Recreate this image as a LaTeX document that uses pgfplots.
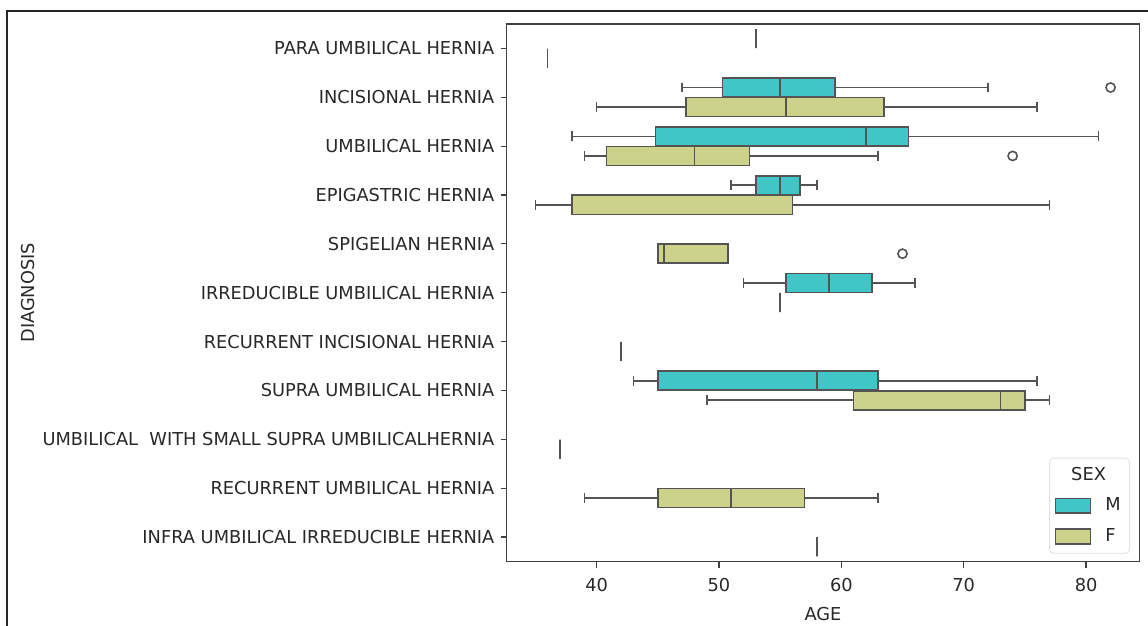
\documentclass[border=0pt]{standalone}
\usepackage{fontspec}
\setmainfont{DejaVu Sans}
\usepackage{pgfplots}
\pgfplotsset{compat=1.18}
\usepgfplotslibrary{statistics}
\definecolor{mcol}{RGB}{64,198,198}
\definecolor{fcol}{RGB}{204,210,138}
\definecolor{edge}{RGB}{84,84,84}
\definecolor{txt}{RGB}{40,40,40}
\begin{document}
\fontsize{8.9}{10.7}\selectfont
\begin{tikzpicture}
\useasboundingbox (0,0) rectangle (574pt,313pt);
\draw[line width=1pt, black!85] (3.5pt,-5pt) -- (3.5pt,307.25pt) -- (580pt,307.25pt);
\begin{axis}[
  at={(253.35pt,32.25pt)}, anchor=south west,
  scale only axis, width=316.3pt, height=268.75pt,
  xmin=32.65, xmax=84.35, ymin=-0.5, ymax=10.5, y dir=reverse,
  xtick={40,50,60,70,80},
  ytick={0,1,2,3,4,5,6,7,8,9,10},
  yticklabels={PARA UMBILICAL HERNIA, INCISIONAL HERNIA, UMBILICAL HERNIA, EPIGASTRIC HERNIA, SPIGELIAN HERNIA, IRREDUCIBLE UMBILICAL HERNIA, RECURRENT INCISIONAL HERNIA, SUPRA UMBILICAL HERNIA, {UMBILICAL\ \ WITH SMALL SUPRA UMBILICALHERNIA}, RECURRENT UMBILICAL HERNIA, INFRA UMBILICAL IRREDUCIBLE HERNIA},
  tick pos=left, tick align=outside, major tick length=3pt,
  tick style={black!75, line width=0.6pt},
  axis line style={black!75, line width=0.7pt},
  /pgf/number format/assume math mode=true,
  tick label style={font=\fontsize{8.9}{10.7}\selectfont, text=txt},
  label style={font=\fontsize{8.9}{10.7}\selectfont, text=txt},
  xticklabel shift=2pt,
  xlabel={AGE}, ylabel={DIAGNOSIS},
  xlabel shift=2pt, ylabel shift=-2pt,
  boxplot/draw direction=x,
  boxplot/box extend=0.39,
  boxplot/whisker extend=0.2,
  boxplot/every box/.style={line width=0.8pt},
  boxplot/every whisker/.style={line width=0.8pt},
  boxplot/every median/.style={line width=0.8pt},
  legend style={at={(0.9853,0.0145)}, anchor=south east, draw=black!12, rounded corners=2pt, fill=white, font=\fontsize{8.9}{10.7}\selectfont, text=txt, row sep=3.5pt, column sep=5pt, inner sep=2.5pt},
  legend cell align=left,
  every axis plot/.append style={line width=0.8pt},
]
\addlegendimage{empty legend}
\addlegendentry{\hspace*{-17pt}SEX}
\addlegendimage{legend image code/.code={\draw[sharp corners, fill=mcol, draw=edge, line width=0.8pt] (0pt,-3.7pt) rectangle (17.5pt,3.7pt);}}
\addlegendentry{M}
\addlegendimage{legend image code/.code={\draw[sharp corners, fill=fcol, draw=edge, line width=0.8pt] (0pt,-3.7pt) rectangle (17.5pt,3.7pt);}}
\addlegendentry{F}

\pgfplotsset{mbox/.style={forget plot, fill=mcol, draw=edge, mark=o, mark size=2.3pt, mark options={draw=edge, fill=none, solid}},
             fbox/.style={forget plot, fill=fcol, draw=edge, mark=o, mark size=2.3pt, mark options={draw=edge, fill=none, solid}}}
% ---- M ----
\addplot[mbox, boxplot prepared={draw position=-0.2, lower whisker=53, lower quartile=53, median=53, upper quartile=53, upper whisker=53}] coordinates {};
\addplot[mbox, boxplot prepared={draw position=0.8, lower whisker=47, lower quartile=50.3, median=55, upper quartile=59.5, upper whisker=72}] coordinates {(0,82)};
\addplot[mbox, boxplot prepared={draw position=1.8, lower whisker=38, lower quartile=44.8, median=62, upper quartile=65.5, upper whisker=81}] coordinates {};
\addplot[mbox, boxplot prepared={draw position=2.8, lower whisker=51, lower quartile=53, median=55, upper quartile=56.6, upper whisker=58}] coordinates {};
\addplot[mbox, boxplot prepared={draw position=4.8, lower whisker=52, lower quartile=55.5, median=59, upper quartile=62.5, upper whisker=66}] coordinates {};
\addplot[mbox, boxplot prepared={draw position=6.8, lower whisker=43, lower quartile=45, median=58, upper quartile=63, upper whisker=76}] coordinates {};
% ---- F ----
\addplot[fbox, boxplot prepared={draw position=0.2, lower whisker=36, lower quartile=36, median=36, upper quartile=36, upper whisker=36}] coordinates {};
\addplot[fbox, boxplot prepared={draw position=1.2, lower whisker=40, lower quartile=47.3, median=55.5, upper quartile=63.5, upper whisker=76}] coordinates {};
\addplot[fbox, boxplot prepared={draw position=2.2, lower whisker=39, lower quartile=40.8, median=48, upper quartile=52.5, upper whisker=63}] coordinates {(0,74)};
\addplot[fbox, boxplot prepared={draw position=3.2, lower whisker=35, lower quartile=38, median=56, upper quartile=56, upper whisker=77}] coordinates {};
\addplot[fbox, boxplot prepared={draw position=4.2, lower whisker=45, lower quartile=45, median=45.5, upper quartile=50.75, upper whisker=50.75}] coordinates {(0,65)};
\addplot[fbox, boxplot prepared={draw position=5.2, lower whisker=55, lower quartile=55, median=55, upper quartile=55, upper whisker=55}] coordinates {};
\addplot[fbox, boxplot prepared={draw position=6.2, lower whisker=42, lower quartile=42, median=42, upper quartile=42, upper whisker=42}] coordinates {};
\addplot[fbox, boxplot prepared={draw position=7.2, lower whisker=49, lower quartile=61, median=73, upper quartile=75, upper whisker=77}] coordinates {};
\addplot[fbox, boxplot prepared={draw position=8.2, lower whisker=37, lower quartile=37, median=37, upper quartile=37, upper whisker=37}] coordinates {};
\addplot[fbox, boxplot prepared={draw position=9.2, lower whisker=39, lower quartile=45, median=51, upper quartile=57, upper whisker=63}] coordinates {};
\addplot[fbox, boxplot prepared={draw position=10.2, lower whisker=58, lower quartile=58, median=58, upper quartile=58, upper whisker=58}] coordinates {};
\end{axis}
\end{tikzpicture}
\end{document}
